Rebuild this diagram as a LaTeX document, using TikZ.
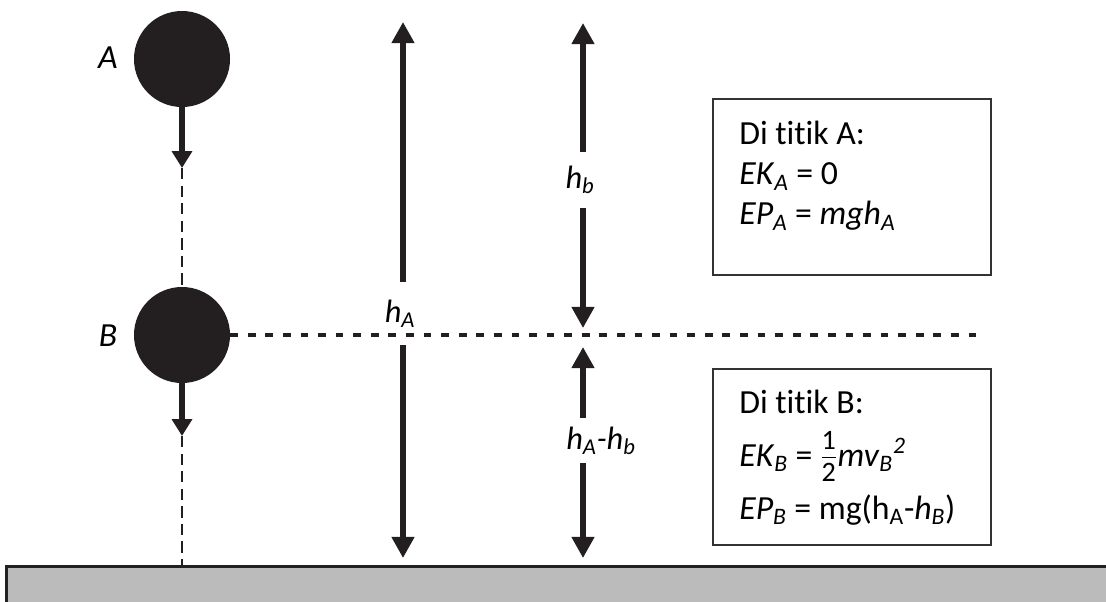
\documentclass[tikz,border=0pt]{standalone}
\usepackage{fontspec}
\setmainfont[Ligatures=NoCommon]{Carlito}
\usepackage{tikz}
\usetikzlibrary{arrows.meta,positioning,calc}
\definecolor{inkcolor}{HTML}{231F20}
\definecolor{boxline}{HTML}{333333}
\definecolor{groundfill}{HTML}{BBBBBB}
\definecolor{groundline}{HTML}{222222}
\newcommand{\idx}[1]{\textsubscript{#1}}
\newcommand{\halfnum}[1]{\mbox{\fontsize{20}{20}\selectfont #1}}

\begin{document}
\begin{tikzpicture}[
    x=0.025cm, y=-0.025cm,
    ball/.style={circle, fill=inkcolor, minimum size=2.4cm, inner sep=0pt},
    balllabel/.style={font=\fontsize{24}{28}\selectfont\itshape, inner sep=0pt},
    fall/.style={-{Triangle[length=12pt,width=14pt]}, line width=3.8pt, inkcolor},
    dimarrow/.style={-{Triangle[length=15pt,width=15.5pt]}, line width=3.6pt, inkcolor},
    dimlabel/.style={font=\fontsize{23}{27}\selectfont\itshape, inner sep=0pt},
    guide/.style={line width=1.4pt, dash pattern=on 8pt off 4.5pt, inkcolor},
    level/.style={line width=3.2pt, dash pattern=on 5.5pt off 7pt, inkcolor},
    infobox/.style={draw=boxline, line width=1.4pt, anchor=north west, minimum width=6.95cm, minimum height=4.4cm, inner sep=0pt},
    infotext/.style={anchor=north west, align=left, inner sep=0pt, font=\fontsize{24}{28.5}\selectfont},
    ground/.style={fill=groundfill, draw=groundline, line width=2pt, anchor=north west, minimum width=28cm, minimum height=1.5cm, inner sep=0pt}
]
\useasboundingbox (0,0) rectangle (1106,601);
\clip (0,0) rectangle (1106,601);

% ground
\node[ground] (ground) at (5,565) {};

% falling ball at A and B
\node[ball] (ballA) at (182,59) {};
\node[ball] (ballB) at (182,335) {};
\node[balllabel] (labA) at (108,58) {A};
\node[balllabel] (labB) at (108,336) {B};
\draw[fall] (ballA.south) -- (182,168) coordinate (tipA);
\draw[guide] (tipA) -- (ballB.north);
\draw[fall] (ballB.south) -- (182,436) coordinate (tipB);
\draw[guide] (tipB) -- (tipB |- ground.north);

% level of B
\coordinate (levelend) at (979,335);
\draw[level] (ballB.east) -- (levelend);

% heights
\coordinate (hAtop) at (403,22);
\coordinate (hAbot) at (403,558);
\coordinate (hbtop) at (583,23);
\coordinate (hblevel) at (583,328);
\coordinate (restup) at (583,347);
\coordinate (restbot) at (583,558);

\node[dimlabel, minimum height=1.575cm] (hA) at (400,313.5) {h\idx{A}};
\node[dimlabel, minimum height=1.4cm] (hb) at (580,180) {h\idx{b}};
\node[dimlabel, minimum height=1.125cm] (hAhb) at (601,440.5) {h\idx{A}-h\idx{b}};

\draw[dimarrow] (hAtop |- hA.north) -- (hAtop);
\draw[dimarrow] (hAbot |- hA.south) -- (hAbot);
\draw[dimarrow] (hbtop |- hb.north) -- (hbtop);
\draw[dimarrow] (hblevel |- hb.south) -- (hblevel);
\draw[dimarrow] (restup |- hAhb.north) -- (restup);
\draw[dimarrow] (restbot |- hAhb.south) -- (restbot);

% energy boxes
\node[infobox] (boxA) at (712,98) {};
\node[infobox] (boxB) at (712,368) {};
\node[infotext] (txtA) at (739,121)
    {Di titik A:\\
     \textit{EK}\idx{\textit{A}} = 0\\
     \textit{EP}\idx{\textit{A}} = \textit{mgh}\idx{\textit{A}}};
\node[infotext] (txtB) at (739,390)
    {Di titik B:\\[9pt]
     \textit{EK}\idx{\textit{B}} = $\frac{\raisebox{2pt}{\halfnum{1}}}{\raisebox{-2pt}{\halfnum{2}}}$\textit{mv}\idx{\textit{B}}\textsuperscript{\textit{2}}\\[9pt]
     \textit{EP}\idx{\textit{B}} = mg(h\idx{A}-\textit{h}\idx{\textit{B}})};

\end{tikzpicture}
\end{document}
